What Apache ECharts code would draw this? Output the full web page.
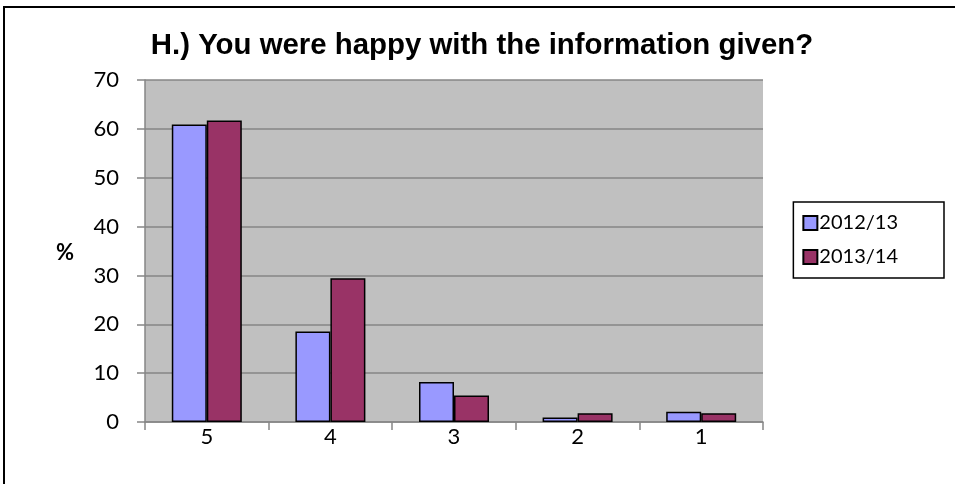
<!DOCTYPE html>
<html><head><meta charset="utf-8">
<script src="https://cdn.jsdelivr.net/npm/echarts@6/dist/echarts.min.js"></script>
<style>html,body{margin:0;padding:0;background:#fff}#c{width:955px;height:484px}</style>
</head><body><div id="c"></div>
<script>
const categories = ['5', '4', '3', '2', '1'];
const series2012 = [60.9, 18.5, 8.2, 0.9, 2.1];
const series2013 = [61.7, 29.4, 5.4, 1.8, 1.8];
const seriesNames = ['2012/13', '2013/14'];
const yTicks = { min: 0, max: 70, interval: 10 };
const titleText = 'H.) You were happy with the information given?';
const yName = '%';

const lbl = 'Lato, "Open Sans", sans-serif';
const chart = echarts.init(document.getElementById('c'), null, { renderer: 'canvas' });
chart.setOption({
  animation: false,
  backgroundColor: '#fff',
  title: {
    text: titleText, left: 477, top: 26, textAlign: 'center',
    textStyle: { fontFamily: 'Liberation Sans, Arial, sans-serif', fontWeight: 'bold', fontSize: 29.4, color: '#000' }
  },
  graphic: [
    { type: 'line', shape: { x1: 3, y1: 7, x2: 955, y2: 7 }, style: { stroke: '#000', lineWidth: 2 } },
    { type: 'line', shape: { x1: 4, y1: 6, x2: 4, y2: 484 }, style: { stroke: '#000', lineWidth: 2 } },
    { type: 'text', left: 56, top: 242, style: { text: yName, font: 'bold 22px ' + lbl, fill: '#000' } }
  ],
  legend: {
    orient: 'vertical', right: 11, top: 202,
    data: seriesNames,
    itemWidth: 14, itemHeight: 14, itemGap: 14,
    padding: [11, 46, 11, 9],
    borderColor: '#000', borderWidth: 1.5,
    icon: 'rect',
    textStyle: { fontFamily: lbl, fontSize: 20, color: '#000', padding: [0, 0, 0, -3] }
  },
  grid: { left: 145, right: 192, top: 80, bottom: 62 },
  xAxis: {
    type: 'category', data: categories,
    axisLine: { lineStyle: { color: '#868686', width: 1.5 } },
    axisTick: { show: true, length: 8, lineStyle: { color: '#868686', width: 1.5 } },
    axisLabel: { fontFamily: lbl, fontSize: 22, color: '#000', margin: 4 }
  },
  yAxis: {
    type: 'value', min: yTicks.min, max: yTicks.max, interval: yTicks.interval,
    axisLine: { show: true, lineStyle: { color: '#868686', width: 1.5 } },
    axisTick: { show: true, length: 8, lineStyle: { color: '#868686', width: 1.5 } },
    axisLabel: { fontFamily: lbl, fontSize: 22, color: '#000', margin: 26 },
    splitLine: { lineStyle: { color: '#868686', width: 1.5 } },
    splitArea: { show: true, areaStyle: { color: ['#c0c0c0', '#c0c0c0'] } }
  },
  series: [
    { name: seriesNames[0], type: 'bar', data: series2012, barWidth: 35, barGap: '0%',
      itemStyle: { color: '#9999ff', borderColor: '#000', borderWidth: 1.5 } },
    { name: seriesNames[1], type: 'bar', data: series2013, barWidth: 35, barGap: '0%',
      itemStyle: { color: '#993366', borderColor: '#000', borderWidth: 1.5 } }
  ]
});
</script></body></html>
